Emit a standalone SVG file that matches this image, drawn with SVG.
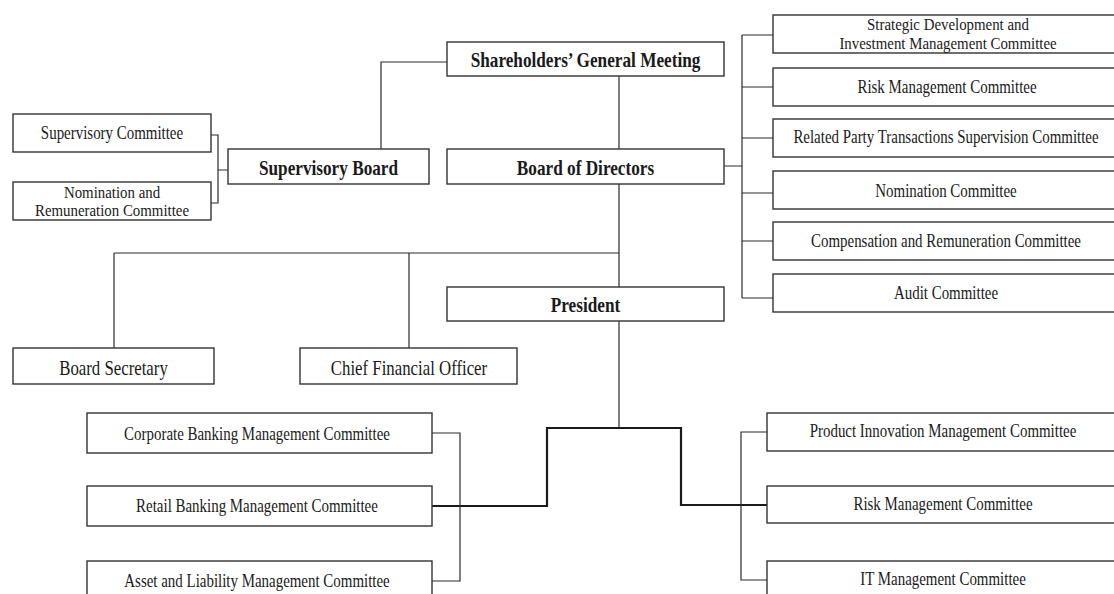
<svg xmlns="http://www.w3.org/2000/svg" width="1114" height="594" viewBox="0 0 1114 594">
<style>
.box{fill:#fff;stroke:#333;stroke-width:1.4}
.ln{fill:none;stroke:#2a2a2a;stroke-width:1.2}
.thk{fill:none;stroke:#1a1a1a;stroke-width:2.2}
text{font-family:"Liberation Serif","Times New Roman",serif;fill:#1a1a1a;text-anchor:middle}
.s{font-size:18px}
.t{font-size:16px}
.m{font-size:21px}
.b{font-size:21px;font-weight:bold}
</style>
<rect width="1114" height="594" fill="#fff"/>
<g id="connectors">
<path class="ln" d="M447,62 H381 V149"/>
<path class="ln" d="M619,76 V149"/>
<path class="ln" d="M228,170 H218 M211,135 H218 V203 H211"/>
<path class="ln" d="M724,166 H742 M742,35 V298 M742,35 H773 M742,87 H773 M742,138 H773 M742,193 H773 M742,241 H773 M742,298 H773"/>
<path class="ln" d="M619,184 V287 M114,253 H619 M114,253 V348 M409,253 V348"/>
<path class="ln" d="M619,321 V428"/>
<path class="thk" d="M432,506 H547 V428 H681 V505 H767"/>
<path class="ln" d="M432,433 H460 V581 H432"/>
<path class="ln" d="M767,432 H741 V580 H767"/>
</g>
<g id="sgm"><rect class="box" x="447" y="42" width="277" height="34"/><text class="b" transform="translate(585.5,67) scale(0.82,1)">Shareholders’ General Meeting</text></g>
<g id="supervisory-board"><rect class="box" x="228" y="149" width="201" height="35"/><text class="b" transform="translate(328.5,175) scale(0.82,1)">Supervisory Board</text></g>
<g id="board-of-directors"><rect class="box" x="447" y="149" width="277" height="35"/><text class="b" transform="translate(585.5,175) scale(0.82,1)">Board of Directors</text></g>
<g id="supervisory-committee"><rect class="box" x="13" y="114" width="198" height="38"/><text class="s" transform="translate(112,139) scale(0.83,1)">Supervisory Committee</text></g>
<g id="nom-rem-committee"><rect class="box" x="13" y="182" width="198" height="38"/><text class="t" transform="translate(112,198) scale(0.93,1)">Nomination and</text><text class="t" transform="translate(112,216) scale(0.93,1)">Remuneration Committee</text></g>
<g id="strategic"><rect class="box" x="773" y="15" width="346" height="38"/><text class="t" transform="translate(948,30) scale(0.93,1)">Strategic Development and</text><text class="t" transform="translate(948,49) scale(0.93,1)">Investment Management Committee</text></g>
<g id="risk-bod"><rect class="box" x="773" y="68" width="346" height="38"/><text class="s" transform="translate(947,93) scale(0.83,1)">Risk Management Committee</text></g>
<g id="related-party"><rect class="box" x="773" y="119" width="346" height="38"/><text class="s" transform="translate(946,143) scale(0.83,1)">Related Party Transactions Supervision Committee</text></g>
<g id="nomination"><rect class="box" x="773" y="171" width="346" height="38"/><text class="s" transform="translate(946,197) scale(0.83,1)">Nomination Committee</text></g>
<g id="compensation"><rect class="box" x="773" y="222" width="346" height="38"/><text class="s" transform="translate(946,247) scale(0.83,1)">Compensation and Remuneration Committee</text></g>
<g id="audit"><rect class="box" x="773" y="274" width="346" height="38"/><text class="s" transform="translate(946,299) scale(0.83,1)">Audit Committee</text></g>
<g id="president"><rect class="box" x="447" y="287" width="277" height="34"/><text class="b" transform="translate(585.5,312) scale(0.82,1)">President</text></g>
<g id="board-secretary"><rect class="box" x="13" y="348" width="201" height="36"/><text class="m" transform="translate(113.5,375) scale(0.8,1)">Board Secretary</text></g>
<g id="cfo"><rect class="box" x="300" y="348" width="217" height="36"/><text class="m" transform="translate(409,375) scale(0.8,1)">Chief Financial Officer</text></g>
<g id="corporate"><rect class="box" x="87" y="413" width="345" height="40"/><text class="s" transform="translate(257,440) scale(0.83,1)">Corporate Banking Management Committee</text></g>
<g id="retail"><rect class="box" x="87" y="486" width="345" height="40"/><text class="s" transform="translate(257,512) scale(0.83,1)">Retail Banking Management Committee</text></g>
<g id="alm"><rect class="box" x="87" y="561" width="345" height="40"/><text class="s" transform="translate(257,587) scale(0.83,1)">Asset and Liability Management Committee</text></g>
<g id="product"><rect class="box" x="767" y="413" width="352" height="38"/><text class="s" transform="translate(943,437) scale(0.83,1)">Product Innovation Management Committee</text></g>
<g id="risk-pres"><rect class="box" x="767" y="486" width="352" height="37"/><text class="s" transform="translate(943,510) scale(0.83,1)">Risk Management Committee</text></g>
<g id="it"><rect class="box" x="767" y="561" width="352" height="40"/><text class="s" transform="translate(943,585) scale(0.83,1)">IT Management Committee</text></g>
</svg>
